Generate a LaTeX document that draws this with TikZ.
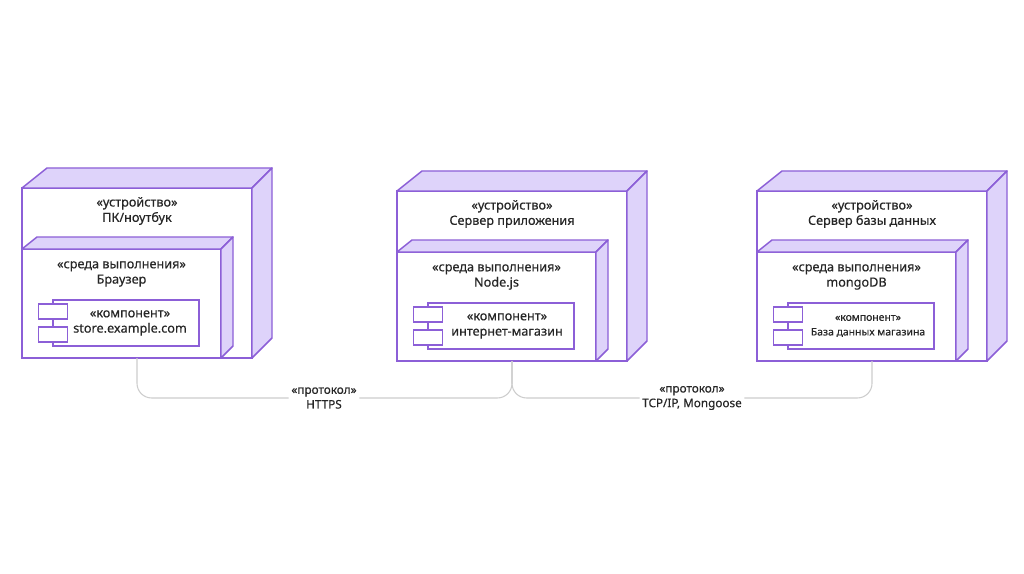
\documentclass[tikz,border=0pt]{standalone}
\usepackage{fontspec}
\setmainfont{Noto Sans}[FakeBold=0.35]
\usetikzlibrary{calc}
\definecolor{umlpurple}{RGB}{140,95,215}
\definecolor{umlface}{RGB}{222,211,250}
\definecolor{linkgray}{RGB}{205,205,205}

\begin{document}
\begin{tikzpicture}[
    x=0.75pt, y=-0.75pt,
    every node/.style={font=\fontsize{9.5}{11.5}\selectfont, align=center, text=black!85},
    device/.style={draw=umlpurple, line width=1.1pt, fill=white, anchor=north west, minimum width=172.5pt, minimum height=127.5pt, inner sep=0pt, outer sep=0pt},
    env/.style={device, anchor=south west, minimum width=149.25pt, minimum height=81.75pt},
    comp/.style={device, minimum width=109.5pt, minimum height=34.5pt},
    port/.style={device, anchor=center, minimum width=21.75pt, minimum height=11pt},
    face/.style={draw=umlpurple, line width=1.1pt, fill=umlface, line join=round},
    link/.style={draw=linkgray, line width=0.8pt, rounded corners=11pt},
    proto/.style={fill=white, inner sep=2pt, font=\fontsize{8.8}{11}\selectfont}
]

\fill[white] (0,0) rectangle (1024,574);
\useasboundingbox (0,0) rectangle (1024,574);

% Devices
\node[device] (dev1) at (22,188) {};
\node[device] (dev2) at (397,191) {};
\node[device] (dev3) at (757,191) {};

\node (dev1t) at ($(dev1.north)+(0,23)$) {«устройство»\\ПК/ноутбук};
\node (dev2t) at ($(dev2.north)+(0,23)$) {«устройство»\\Сервер приложения};
\node (dev3t) at ($(dev3.north)+(0,23)$) {«устройство»\\Сервер базы данных};

% Execution environments
\node[env] (env1) at (dev1.south west) {};
\node[env] (env2) at (dev2.south west) {};
\node[env] (env3) at (dev3.south west) {};

\node (env1t) at ($(env1.north)+(0,25)$) {«среда выполнения»\\Браузер};
\node (env2t) at ($(env2.north)+(0,25)$) {«среда выполнения»\\Node.js};
\node (env3t) at ($(env3.north)+(0,25)$) {«среда выполнения»\\mongoDB};

% Components
\node[comp] (comp1) at ($(env1.north west)+(31,51)$) {};
\node[comp] (comp2) at ($(env2.north west)+(31,51)$) {};
\node[comp] (comp3) at ($(env3.north west)+(31,51)$) {};

\node (comp1t) at ($(comp1.center)+(4,0)$) {«компонент»\\store.example.com};
\node (comp2t) at ($(comp2.center)+(6,0)$) {«компонент»\\интернет-магазин};
\node[font=\fontsize{7.8}{11}\selectfont] (comp3t) at ($(comp3.center)+(7,0)$) {«компонент»\\База данных магазина};

% 3D faces and ports
\foreach \i in {1,2,3} {
    \draw[face] (dev\i.north west) -- ++(25,-20) -- ($(dev\i.north east)+(20,-20)$) -- (dev\i.north east) -- cycle;
    \draw[face] (dev\i.north east) -- ++(20,-20) -- ($(dev\i.south east)+(20,-20)$) -- (dev\i.south east) -- cycle;
    \draw[face] (env\i.north west) -- ++(15,-12) -- ($(env\i.north east)+(12,-12)$) -- (env\i.north east) -- cycle;
    \draw[face] (env\i.north east) -- ++(12,-12) -- ($(env\i.south east)+(12,-12)$) -- (env\i.south east) -- cycle;
    \node[port] (port\i a) at ($(comp\i.west)+(0,-11.5)$) {};
    \node[port] (port\i b) at ($(comp\i.west)+(0,11.5)$) {};
}

% Protocols
\coordinate (bus1) at (324,398);
\coordinate (bus2) at (692,398);
\draw[link] (dev1.south) |- (bus1) node[proto] (http) {«протокол»\\HTTPS} -| (dev2.south);
\draw[link] (dev2.south) |- (bus2) node[proto] (tcp) {«протокол»\\TCP/IP, Mongoose} -| (dev3.south);

\end{tikzpicture}
\end{document}
